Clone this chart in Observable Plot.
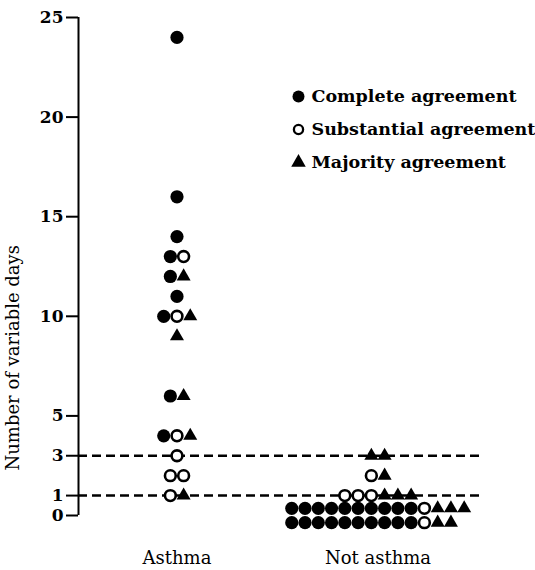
<!DOCTYPE html>
<html><head><meta charset="utf-8">
<script src="https://cdn.jsdelivr.net/npm/d3@7"></script>
<script src="https://cdn.jsdelivr.net/npm/@observablehq/plot@0.6"></script>
<style>body{margin:0;background:#fff}</style>
</head><body><div id="chart"></div>
<script>
const groups = ["Asthma", "Not asthma"];
const agreementTypes = ["Complete agreement", "Substantial agreement", "Majority agreement"];
// values (number of variable days) per child, by group and agreement type
const asthmaComplete = [24, 16, 14, 13, 12, 11, 10, 6, 4];
const asthmaSubstantial = [13, 10, 4, 3, 2, 2, 1];
const asthmaMajority = [12, 10, 9, 6, 4, 1];
const notAsthmaComplete = [0,0,0,0,0,0,0,0,0,0,0,0,0,0,0,0,0,0,0,0];
const notAsthmaSubstantial = [2, 1, 1, 1, 0, 0];
const notAsthmaMajority = [3, 3, 2, 1, 1, 1, 0, 0, 0, 0, 0];
const yTicks = [0, 1, 3, 5, 10, 15, 20, 25];
const cutoffs = [1, 3];
const yLabel = "Number of variable days";

const seriesByGroup = [
  [asthmaComplete, asthmaSubstantial, asthmaMajority],
  [notAsthmaComplete, notAsthmaSubstantial, notAsthmaMajority]
];

// dot-plot layout: each value forms a row ordered by agreement type; long rows wrap into two
const STEP = 0.066, MAXROW = 14, ROWOFF = 0.36;
const points = [];
seriesByGroup.forEach((series, g) => {
  const values = Array.from(new Set(series.flat()));
  values.forEach(v => {
    const counts = series.map(s => s.filter(x => x === v).length);
    const total = d3.sum(counts);
    const rows = total > MAXROW ? [[], []] : [[]];
    counts.forEach((c, t) => {
      for (let k = 0; k < c; k++) rows[rows.length === 2 ? k % 2 : 0].push(t);
    });
    const nmax = d3.max(rows, r => r.length);
    rows.forEach((r, ri) => {
      r.forEach((t, i) => {
        points.push({
          group: groups[g],
          type: agreementTypes[t],
          value: v,
          x: g + (i - (nmax - 1) / 2) * STEP,
          y: v + (rows.length === 2 ? (ri === 0 ? ROWOFF : -ROWOFF) : 0)
        });
      });
    });
  });
});

const serif = "DejaVu Serif";
const legendMarks = agreementTypes.flatMap((t, i) => {
  const dy = 79 + i * 33;
  const sym = i === 2 ? "triangle" : "circle";
  return [
    Plot.dot([t], {frameAnchor: "top-left", dx: 220, dy, r: i === 0 ? 6 : i === 1 ? 4.6 : 5.4,
      symbol: sym, fill: i === 1 ? "white" : "black", stroke: i === 1 ? "black" : "none", strokeWidth: 2.3}),
    Plot.text([t], {frameAnchor: "top-left", lineAnchor: "middle", dx: 233, dy, text: d => d, textAnchor: "start",
      fontSize: 17.5, fontWeight: "bold", fontFamily: serif, fill: "black"})
  ];
});

const chart = Plot.plot({
  width: 535,
  height: 570,
  marginLeft: 78,
  marginRight: 53,
  marginTop: 17,
  marginBottom: 55,
  style: {fontFamily: serif, background: "white", color: "black"},
  x: {type: "linear", domain: [-0.49, 1.52], axis: null},
  y: {domain: [0, 25]},
  marks: [
    Plot.ruleY(cutoffs, {strokeDasharray: "9,5", strokeWidth: 2.5, stroke: "black"}),
    Plot.ruleX([-0.49], {y1: 0, y2: 25, strokeWidth: 2, stroke: "black"}),
    Plot.axisY({ticks: yTicks, tickSize: 12, tickPadding: 3, tickFormat: d => d, label: null,
      fontSize: 17, fontWeight: "bold", strokeWidth: 2}),
    Plot.text([yLabel], {frameAnchor: "bottom-left", rotate: -90, textAnchor: "start", dx: -60, dy: -45,
      text: d => d, fontSize: 18, fontFamily: serif, fill: "black", style: "letter-spacing:1.2px"}),
    Plot.text(groups, {x: (d, i) => i, frameAnchor: "bottom", dy: 48, text: d => d,
      fontSize: 18, fontFamily: serif, fill: "black", style: "letter-spacing:1.6px"}),
    Plot.dot(points.filter(d => d.type === agreementTypes[0]), {x: "x", y: "y", r: 6.6, fill: "black"}),
    Plot.dot(points.filter(d => d.type === agreementTypes[2]), {x: "x", y: "y", r: 5.2, symbol: "triangle", fill: "black"}),
    Plot.dot(points.filter(d => d.type === agreementTypes[1]), {x: "x", y: "y", r: 5.4, fill: "white", stroke: "black", strokeWidth: 2.6}),
    ...legendMarks
  ]
});
document.getElementById("chart").append(chart);
</script>
</body></html>
